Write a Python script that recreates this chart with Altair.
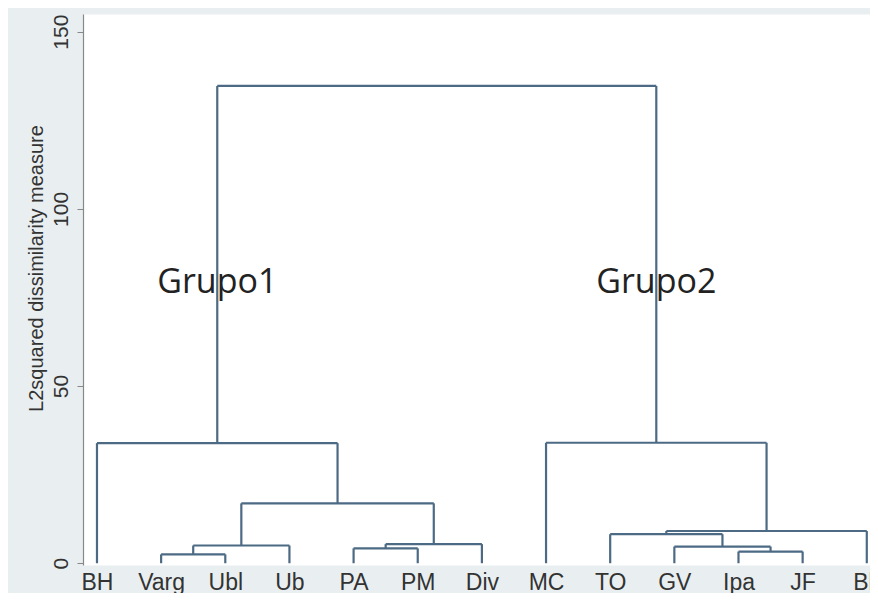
import altair as alt
import pandas as pd

# Leaves in dendrogram order
leaves = ["BH", "Varg", "Ubl", "Ub", "PA", "PM", "Div", "MC", "TO", "GV", "Ipa", "JF", "Bb"]

# Merges: (left child, right child, dissimilarity height); children are leaf names or merge ids
merge_left = ["Varg", "m0", "PA", "m2", "m1", "BH", "Ipa", "GV", "TO", "m8", "MC", "m5"]
merge_right = ["Ubl", "Ub", "PM", "Div", "m3", "m4", "JF", "m6", "m7", "Bb", "m9", "m10"]
merge_height = [2.5, 5.0, 4.2, 5.4, 16.9, 33.9, 3.3, 4.7, 8.2, 9.1, 34.0, 134.7]

# Annotation texts
group_labels = ["Grupo1", "Grupo2"]
group_nodes = ["m5", "m10"]
group_y = [79, 79]

y_ticks = [0, 50, 100, 150]

# ---- build dendrogram segments ----
pos = {name: (i, 0.0) for i, name in enumerate(leaves)}
segs = []
for k, (a, b, h) in enumerate(zip(merge_left, merge_right, merge_height)):
    xa, ha = pos[a]
    xb, hb = pos[b]
    segs.append(dict(x0=xa, x1=xa, y0=ha, y1=h))
    segs.append(dict(x0=xb, x1=xb, y0=hb, y1=h))
    segs.append(dict(x0=xa, x1=xb, y0=h, y1=h))
    pos[f"m{k}"] = ((xa + xb) / 2, h)
seg_df = pd.DataFrame(segs)

ann_df = pd.DataFrame({
    "label": group_labels,
    "x": [pos[n][0] for n in group_nodes],
    "y": group_y,
})

label_arr = "[" + ",".join(f"'{l}'" for l in leaves) + "]"

LINE = "#4d6a84"
FONT = "Liberation Sans"

xscale = alt.Scale(domain=[-0.218, 12.05], nice=False, zero=False)
yscale = alt.Scale(domain=[-0.5, 155], nice=False, zero=False)

rules = alt.Chart(seg_df).mark_rule(color=LINE, strokeWidth=2.2).encode(
    x=alt.X("x0:Q", scale=xscale,
            axis=alt.Axis(values=list(range(len(leaves))), labelExpr=f"{label_arr}[datum.value]",
                          domain=False, ticks=False, grid=False, title=None,
                          labelFont=FONT, labelFontSize=23, labelColor="#333333",
                          labelPadding=6, labelFlush=False, labelOverlap=False, labelBound=False)),
    x2="x1:Q",
    y=alt.Y("y0:Q", scale=yscale,
            axis=alt.Axis(values=y_ticks, grid=False, title="L2squared dissimilarity measure",
                          domainColor="#888888", domainWidth=1.2, tickColor="#888888", tickSize=6,
                          labelAngle=270, labelAlign="center", labelBaseline="bottom",
                          labelFont=FONT, labelFontSize=21, labelColor="#333333", labelPadding=6,
                          titleFont=FONT, titleFontSize=20, titleFontWeight="normal",
                          titleColor="#333333", titleAngle=270, titleAlign="center",
                          titleBaseline="alphabetic", titleX=-41, titleY=254)),
    y2="y1:Q",
)

texts = alt.Chart(ann_df).mark_text(font="Open Sans", fontSize=34, color="#222222",
                                    baseline="middle", align="center").encode(
    x=alt.X("x:Q", scale=xscale),
    y=alt.Y("y:Q", scale=yscale),
    text="label:N",
)

chart = alt.layer(rules, texts).properties(
    width=787, height=551,
    autosize=alt.AutoSizeParams(type="none"),
    padding={"left": 75, "top": 6, "right": 0, "bottom": 28},
    background="#e9eff1",
).configure_view(fill="white", stroke="transparent")

chart.save("out.html", embed_options={"renderer": "svg", "actions": False})
